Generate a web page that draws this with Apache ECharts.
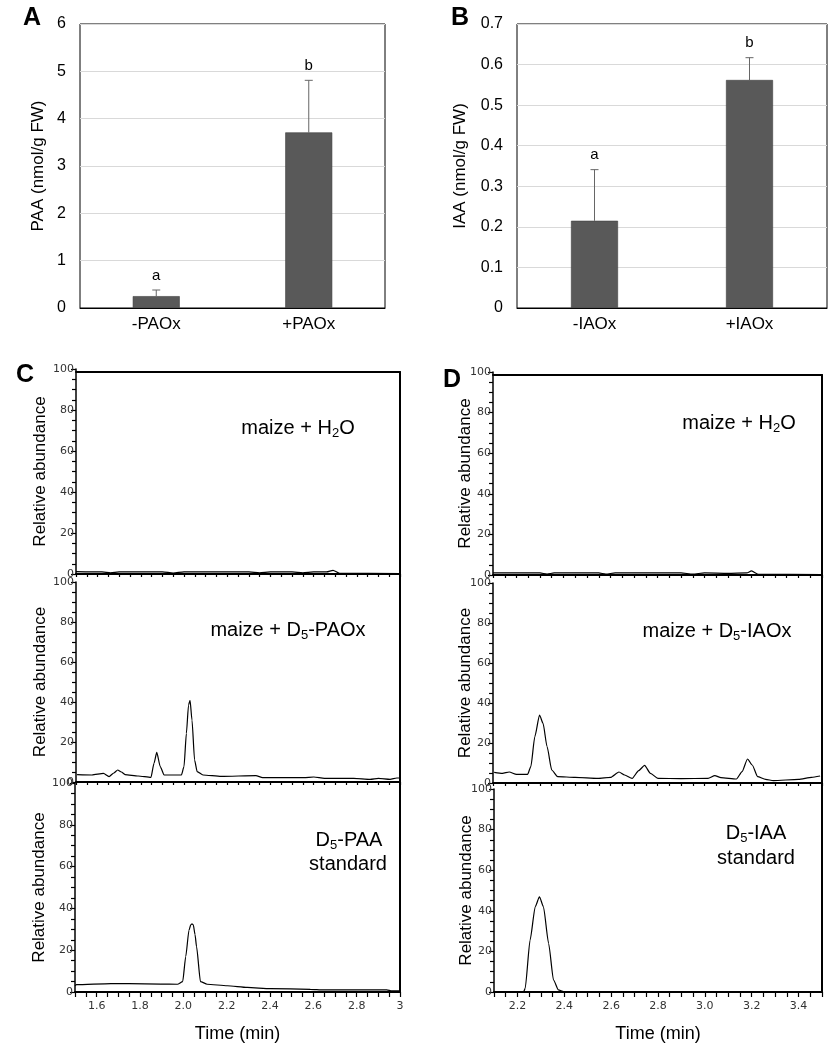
<!DOCTYPE html>
<html><head><meta charset="utf-8">
<script src="https://cdn.jsdelivr.net/npm/echarts@6/dist/echarts.min.js"></script>
<style>html,body{margin:0;padding:0;background:#fff}#c{width:835px;height:1050px}</style>
</head><body><div id="c"></div>
<script>
// ---- Panel A / B bar data ----
const paaCats = ['-PAOx', '+PAOx'];
const paaMeans = [0.25, 3.71];
const paaErr = [0.13, 1.10];
const paaLetters = ['a', 'b'];

const iaaCats = ['-IAOx', '+IAOx'];
const iaaMeans = [0.215, 0.562];
const iaaErr = [0.126, 0.055];
const iaaLetters = ['a', 'b'];

// ---- Panel C chromatograms [time(min), relative abundance] ----
const cWater = [[1.5,1.2],[1.62,1.0],[1.66,0.6],[1.70,1.0],[1.90,1.0],[1.95,0.5],[2.0,1.0],[2.3,1.0],[2.35,0.6],[2.4,1.0],[2.5,1.0],[2.55,0.6],[2.6,1.0],[2.66,1.0],[2.69,1.8],[2.72,0.3],[3.0,0.2]];
const cPAOx = [[1.505,3.7],[1.574,3.5],[1.627,4.3],[1.653,2.7],[1.675,4.5],[1.693,6.0],[1.71,5.0],[1.727,3.7],[1.788,3.0],[1.847,2.3],[1.861,9.3],[1.874,14.8],[1.890,7.7],[1.908,3.5],[1.95,3.5],[1.988,3.5],[2.0,7.7],[2.011,24.3],[2.021,38.5],[2.028,40.8],[2.037,31],[2.049,11],[2.061,5.2],[2.088,3.5],[2.172,2.8],[2.333,3.2],[2.364,2.2],[2.555,2.2],[2.601,2.5],[2.65,1.8],[2.786,1.8],[2.862,1.3],[2.9,1.8],[2.954,1.3],[2.985,2.0],[3.0,2.0]];
const cPAA = [[1.5,2.9],[1.507,3.5],[1.666,4.0],[1.75,4.0],[1.896,3.8],[1.973,3.7],[1.997,5.0],[2.011,16.9],[2.026,29.5],[2.034,32.1],[2.040,32.6],[2.046,32.1],[2.054,27.5],[2.061,21.7],[2.079,5.0],[2.11,3.7],[2.203,3.0],[2.295,2.2],[2.402,1.6],[2.586,1.3],[2.646,1.0],[2.939,1.0],[2.962,0.5],[3.0,0.5]];

// ---- Panel D chromatograms ----
const dWater = [[2.1,1.0],[2.3,1.0],[2.33,0.5],[2.36,1.0],[2.55,1.0],[2.58,0.5],[2.62,1.0],[2.9,1.0],[2.95,0.5],[3.0,1.0],[3.1,0.8],[3.18,1.0],[3.2,2.0],[3.23,0.3],[3.5,0.2]];
const dIAOx = [[2.105,5.3],[2.14,4.8],[2.169,5.5],[2.2,4.3],[2.247,4.3],[2.261,8.2],[2.278,23.2],[2.298,34.0],[2.313,29.8],[2.33,18.2],[2.35,6.5],[2.375,3.2],[2.45,2.8],[2.546,2.3],[2.6,2.8],[2.636,5.5],[2.66,4.0],[2.692,2.3],[2.72,6.2],[2.745,8.8],[2.77,4.8],[2.802,2.3],[2.9,2.2],[3.015,2.3],[3.044,3.7],[3.07,2.7],[3.136,2.0],[3.16,5.7],[3.183,12.0],[3.203,9.0],[3.226,3.2],[3.26,1.8],[3.293,1.2],[3.40,1.8],[3.456,2.8],[3.492,3.5]];
const dIAA = [[2.1,0],[2.226,0],[2.233,1.8],[2.254,25.6],[2.276,42],[2.294,46.9],[2.311,42],[2.333,24],[2.354,5.9],[2.375,1.0],[2.397,0.2],[2.42,0],[3.5,0]];

const F = '"Liberation Sans", Arial, sans-serif';
const TF = '"DejaVu Sans", sans-serif';

function errRender(letters) {
  return function (params, api) {
    const i = api.value(0), m = api.value(1), e = api.value(2);
    const p0 = api.coord([i, m]);
    const p1 = api.coord([i, m + e]);
    return {
      type: 'group',
      children: [
        { type: 'line', shape: { x1: p0[0], y1: p0[1], x2: p1[0], y2: p1[1] }, style: { stroke: '#666', lineWidth: 1 } },
        { type: 'line', shape: { x1: p1[0] - 4, y1: p1[1], x2: p1[0] + 4, y2: p1[1] }, style: { stroke: '#666', lineWidth: 1 } },
        { type: 'text', style: { text: letters[params.dataIndex], x: p1[0], y: p1[1] - 7, align: 'center', verticalAlign: 'bottom', textAlign: 'center', textVerticalAlign: 'bottom', fontSize: 15, fontFamily: F, fill: '#000' } }
      ]
    };
  };
}

const grids = [
  { left: 80, top: 24, width: 305, height: 284, show: true, borderColor: '#000', borderWidth: 1 },
  { left: 517, top: 24, width: 310, height: 284, show: true, borderColor: '#000', borderWidth: 1 },
  { left: 76, top: 369, width: 324, height: 205 },
  { left: 76, top: 582, width: 324, height: 200 },
  { left: 75, top: 783, width: 325, height: 209 },
  { left: 493, top: 372, width: 329, height: 203 },
  { left: 493, top: 583, width: 329, height: 200 },
  { left: 494, top: 789, width: 328, height: 203 },
  { left: 76, top: 372, width: 324, height: 620 },
  { left: 493, top: 375, width: 329, height: 617 }
];

function barX(idx, cats) {
  return { type: 'category', gridIndex: idx, data: cats, axisTick: { show: false },
    axisLine: { show: true, lineStyle: { color: '#000', width: 1 } },
    axisLabel: { fontSize: 17, fontFamily: F, color: '#000', margin: 8 } };
}
function barY(idx, max, interval, name, gap, fmt) {
  return { type: 'value', gridIndex: idx, min: 0, max: max, interval: interval,
    name: name, nameLocation: 'middle', nameGap: gap, nameMoveOverlap: false,
    nameTextStyle: { fontSize: 17, fontFamily: F, color: '#000' },
    axisLine: { show: false }, axisTick: { show: false },
    splitLine: { show: true, lineStyle: { color: '#d9d9d9', width: 1 } },
    axisLabel: { fontSize: 16, fontFamily: F, color: '#000', margin: 14, formatter: fmt } };
}
function chromX(idx, min, max, bottom, fmtC) {
  return { type: 'value', gridIndex: idx, min: min, max: max, interval: 0.1,
    axisLine: { show: true, onZero: false, lineStyle: { color: '#000', width: 2 } },
    axisTick: { show: true, length: bottom ? 5 : 3, lineStyle: { color: '#000', width: 1.2 } },
    minorTick: { show: true, splitNumber: 2, length: bottom ? 5 : 3, lineStyle: { color: '#000', width: 1.2 } },
    splitLine: { show: false },
    name: bottom ? 'Time (min)' : '', nameLocation: 'middle', nameGap: 33, nameMoveOverlap: false,
    nameTextStyle: { fontSize: 18, fontFamily: F, color: '#000' },
    axisLabel: { show: bottom, fontSize: 11, fontFamily: TF, color: '#333', margin: 9,
      formatter: function (v) { const k = Math.round(v * 10); if (k % 2) return ''; if (fmtC && k === 30) return '3'; return (k / 10).toFixed(1); } } };
}
function chromY(idx, gap) {
  return { type: 'value', gridIndex: idx, min: 0, max: 100, interval: 20,
    name: 'Relative abundance', nameLocation: 'middle', nameGap: gap, nameMoveOverlap: false,
    nameTextStyle: { fontSize: 17, fontFamily: F, color: '#000' },
    axisLine: { show: true, lineStyle: { color: '#000', width: 1.5 } },
    axisTick: { show: true, length: 5, lineStyle: { color: '#000', width: 1.2 } },
    minorTick: { show: true, splitNumber: 4, length: 4, lineStyle: { color: '#000', width: 1.2 } },
    splitLine: { show: false },
    axisLabel: { fontSize: 11, fontFamily: TF, color: '#333', margin: 2 } };
}
function frameX(idx) {
  return { type: 'value', gridIndex: idx, position: 'top', min: 0, max: 1,
    axisLine: { show: true, onZero: false, lineStyle: { color: '#000', width: 2 } },
    axisTick: { show: false }, axisLabel: { show: false }, splitLine: { show: false } };
}
function frameY(idx) {
  return { type: 'value', gridIndex: idx, position: 'right', min: 0, max: 1,
    axisLine: { show: true, onZero: false, lineStyle: { color: '#000', width: 2 } },
    axisTick: { show: false }, axisLabel: { show: false }, splitLine: { show: false } };
}

function lineSeries(idx, data) {
  return { type: 'line', xAxisIndex: idx, yAxisIndex: idx, data: data, showSymbol: false,
    smooth: 0.2, smoothMonotone: 'x', lineStyle: { color: '#000', width: 1.2 }, silent: true, z: 3 };
}

const sub = { s: { fontSize: 13, lineHeight: 13, padding: [10, 0, 0, 0], fontFamily: F, fill: '#000' } };
function label(text, x, y) {
  return { type: 'text', style: { text: text, x: x, y: y, fontSize: 20, fontFamily: F, fill: '#000',
    align: 'center', verticalAlign: 'middle', textAlign: 'center', textVerticalAlign: 'middle', rich: sub } };
}
function letter(text, x, y) {
  return { type: 'text', style: { text: text, x: x, y: y, fontSize: 25, fontWeight: 'bold', fontFamily: F, fill: '#000',
    align: 'center', verticalAlign: 'middle', textAlign: 'center', textVerticalAlign: 'middle' } };
}

const chart = echarts.init(document.getElementById('c'), null, { renderer: 'canvas' });
chart.setOption({
  animation: false,
  backgroundColor: '#fff',
  grid: grids,
  xAxis: [
    barX(0, paaCats), barX(1, iaaCats),
    chromX(2, 1.5, 3.0, false, true), chromX(3, 1.5, 3.0, false, true), chromX(4, 1.5, 3.0, true, true),
    chromX(5, 2.1, 3.5, false, false), chromX(6, 2.1, 3.5, false, false), chromX(7, 2.1, 3.5, true, false),
    frameX(8), frameX(9)
  ],
  yAxis: [
    barY(0, 6, 1, 'PAA (nmol/g FW)', 33, null),
    barY(1, 0.7, 0.1, 'IAA (nmol/g FW)', 48, function (v) { return v === 0 ? '0' : v.toFixed(1); }),
    chromY(2, 27), chromY(3, 27), chromY(4, 27),
    chromY(5, 19), chromY(6, 19), chromY(7, 19),
    frameY(8), frameY(9)
  ],
  series: [
    { type: 'bar', xAxisIndex: 0, yAxisIndex: 0, data: paaMeans, barWidth: 47,
      itemStyle: { color: '#595959', borderColor: '#404040', borderWidth: 0.6 } },
    { type: 'custom', xAxisIndex: 0, yAxisIndex: 0, renderItem: errRender(paaLetters),
      data: paaMeans.map((m, i) => [i, m, paaErr[i]]), z: 1 },
    { type: 'bar', xAxisIndex: 1, yAxisIndex: 1, data: iaaMeans, barWidth: 47,
      itemStyle: { color: '#595959', borderColor: '#404040', borderWidth: 0.6 } },
    { type: 'custom', xAxisIndex: 1, yAxisIndex: 1, renderItem: errRender(iaaLetters),
      data: iaaMeans.map((m, i) => [i, m, iaaErr[i]]), z: 1 },
    lineSeries(2, cWater), lineSeries(3, cPAOx), lineSeries(4, cPAA),
    lineSeries(5, dWater), lineSeries(6, dIAOx), lineSeries(7, dIAA)
  ],
  graphic: [
    letter('A', 32, 18), letter('B', 460, 18), letter('C', 25, 375), letter('D', 452, 380),
    label('maize + H{s|2}O', 298, 428),
    label('maize + D{s|5}-PAOx', 288, 630),
    label('D{s|5}-PAA', 349, 840),
    label('standard', 348, 864),
    label('maize + H{s|2}O', 739, 423),
    label('maize + D{s|5}-IAOx', 717, 631),
    label('D{s|5}-IAA', 756, 833),
    label('standard', 756, 858)
  ]
});
</script>
</body></html>
